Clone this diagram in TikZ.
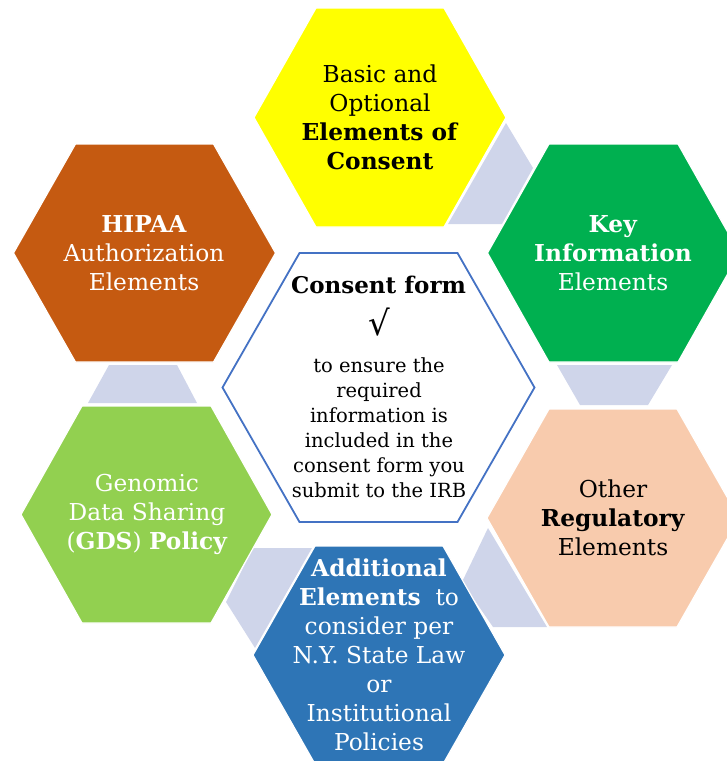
\documentclass[tikz,border=0pt]{standalone}
\usepackage{fontspec}
\setmainfont{DejaVu Serif}
\newfontfamily\symbolfont{DejaVu Sans}

\definecolor{consentyellow}{HTML}{FFFF00}
\definecolor{keygreen}{HTML}{00B050}
\definecolor{hipaabrown}{HTML}{C55A11}
\definecolor{regpeach}{HTML}{F8CBAD}
\definecolor{gdsgreen}{HTML}{92D050}
\definecolor{addblue}{HTML}{2E75B6}
\definecolor{linkgray}{HTML}{CFD5EA}
\definecolor{centerblue}{HTML}{4472C4}

% flat-topped hexagon: fill colour, centre x, centre y, half width, half top edge, half height
\newcommand\hexagonat[7][hexfill]{%
  \path[#1, fill=#2] ({#3-#5},#4) -- ({#3-#6},{#4-#7}) -- ({#3+#6},{#4-#7})
    -- ({#3+#5},#4) -- ({#3+#6},{#4+#7}) -- ({#3-#6},{#4+#7}) -- cycle;}

\begin{document}
\begin{tikzpicture}[x=1pt, y=-1pt,
  hexfill/.style={draw=white, line width=1.2pt, line join=miter},
  centerhex/.style={draw=centerblue, line width=1.8pt, line join=miter},
  link/.style={fill=linkgray},
  hextext/.style={align=center, inner sep=0pt, font=\fontsize{23.3}{29}\selectfont},
  bodytext/.style={align=center, inner sep=0pt, font=\fontsize{19.5}{25}\selectfont},
]
\useasboundingbox (0,0) rectangle (727,761);
\clip (0,0) rectangle (727,761);

% connecting bands between neighbouring hexagons
\fill[link] (506,123) -- (533,168) -- (502,224) -- (448,224) -- cycle;
\fill[link] (557,365) -- (672,365) -- (648,405) -- (580,405) -- cycle;
\fill[link] (488,528) -- (547,627) -- (493,627) -- (462,582) -- cycle;
\fill[link] (253,548) -- (312,548) -- (255,648) -- (226,602) -- cycle;
\fill[link] (109,365) -- (177,365) -- (197,403) -- (88,403) -- cycle;

% outer hexagons
\hexagonat{consentyellow}{380}{117.5}{126}{64}{109.5}
\hexagonat{keygreen}{613.5}{253}{126}{64.5}{109}
\hexagonat{hipaabrown}{144.5}{253}{131}{69}{109}
\hexagonat{regpeach}{613}{518}{126}{64}{109}
\hexagonat{gdsgreen}{146.5}{514.5}{125.5}{64.5}{108.5}
\hexagonat{addblue}{379}{655}{126}{64}{109}

% central hexagon
\hexagonat[centerhex]{white}{378.5}{387.5}{156}{79}{134.5}

% labels
\node[hextext] (basic) at (380,117) {Basic and\\Optional\\\textbf{Elements of}\\\textbf{Consent}};
\node[hextext, text=white] (key) at (613,253) {\textbf{Key}\\\textbf{Information}\\Elements};
\node[hextext, text=white] (hipaa) at (144,253) {\textbf{HIPAA}\\Authorization\\Elements};
\node[hextext] (other) at (613,518) {Other\\\textbf{Regulatory}\\Elements};
\node[hextext, text=white] (gds) at (147,514) {Genomic\\Data Sharing\\(\textbf{GDS}) \textbf{Policy}};
\node[hextext, text=white] (additional) at (379,655)
  {\textbf{Additional}\\\textbf{Elements}\ \ to\\consider per\\N.Y. State Law\\or\\Institutional\\Policies};

\node[inner sep=0pt, anchor=base, font=\bfseries\fontsize{23}{29}\selectfont] (title) at (378.5,293) {Consent form};
\node[inner sep=0pt, font=\symbolfont\fontsize{34}{36}\selectfont] (tick) at (379,322) {√};
\node[bodytext, anchor=north] (ensure) at (379,357)
  {to ensure the\\required\\information is\\included in the\\consent form you\\submit to the IRB};
\end{tikzpicture}
\end{document}
